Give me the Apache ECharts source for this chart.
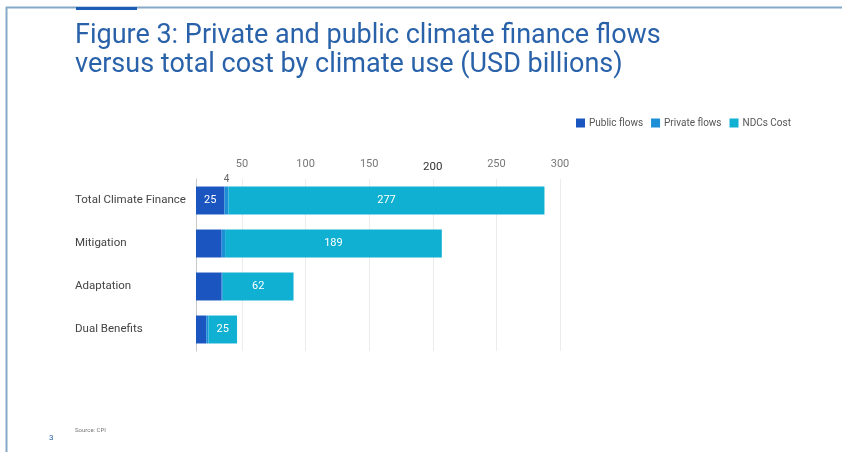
<!DOCTYPE html>
<html><head><meta charset="utf-8">
<script src="https://cdn.jsdelivr.net/npm/echarts@6/dist/echarts.min.js"></script>
<style>html,body{margin:0;padding:0;background:#fff}#c{width:842px;height:452px}</style>
</head><body><div id="c"></div>
<script>
const categories = ['Total Climate Finance', 'Mitigation', 'Adaptation', 'Dual Benefits'];
const publicFlows = [25, 22.5, 22.5, 9];
const privateFlows = [3.5, 3, 1, 2];
const ndcCost = [277, 190, 62, 25];
const tickValues = [50, 100, 150, 200, 250, 300];

const chart = echarts.init(document.getElementById('c'));
const cats = categories.slice().reverse();
const rev = a => a.slice().reverse();
const gTop = 179, gHeight = 172;
const option = {
  animation: false,
  backgroundColor: '#fff',
  textStyle: { fontFamily: 'Roboto' },
  title: [
    { text: 'Figure 3: Private and public climate finance flows\nversus total cost by climate use (USD billions)',
      left: 70, top: 17,
      textStyle: { fontFamily: 'Roboto', fontSize: 27, fontWeight: 'normal', color: '#2a62aa', lineHeight: 29 } },
    { text: 'Source: CPI', left: 70, top: 422, textStyle: { fontSize: 6, fontWeight: 'normal', color: '#777' } },
    { text: '3', left: 44, top: 429, textStyle: { fontSize: 8, fontWeight: 'normal', color: '#2a62aa' } }
  ],
  graphic: [
    { type: 'line', shape: { x1: 6, y1: 7.5, x2: 842, y2: 7.5 }, style: { stroke: '#86a9c9', lineWidth: 2 } },
    { type: 'line', shape: { x1: 6.5, y1: 7, x2: 6.5, y2: 452 }, style: { stroke: '#86a9c9', lineWidth: 2 } },
    { type: 'rect', shape: { x: 76, y: 7, width: 61, height: 3 }, style: { fill: '#1b5cb4' } }
  ],
  legend: {
    right: 46, top: 113, itemWidth: 9, itemHeight: 9, itemGap: 8, icon: 'rect',
    textStyle: { fontSize: 10, color: '#555', padding: [0, 0, 0, -1] },
    data: ['Public flows', 'Private flows', 'NDCs Cost']
  },
  grid: [
    { left: 196, top: gTop, width: 365, height: gHeight },
    { left: 178.4, top: gTop, width: 381.6, height: gHeight }
  ],
  xAxis: [
    { type: 'value', gridIndex: 0, min: 0, max: 320, axisLabel: { show: false }, splitLine: { show: false }, axisLine: { show: false }, axisTick: { show: false } },
    { type: 'value', gridIndex: 1, min: 0, max: 300, interval: 50, position: 'top',
      axisLine: { show: false }, axisTick: { show: false },
      axisLabel: { showMinLabel: false, margin: 9, fontSize: 11, color: '#777',
        formatter: v => v === 200 ? '{b|' + v + '}' : (tickValues.indexOf(v) >= 0 ? String(v) : ''),
        rich: { b: { fontSize: 11.5, color: '#333', padding: [0, 0, -3, 0] } } },
      splitLine: { show: true, lineStyle: { color: ['rgba(0,0,0,0)', '#ececec', '#ececec', '#ececec', '#ececec', '#ececec', '#ececec'], width: 1 } }
    }
  ],
  yAxis: [
    { type: 'category', gridIndex: 0, data: cats,
      axisLine: { show: true, lineStyle: { color: '#c9c9c9' } }, axisTick: { show: false },
      axisLabel: { align: 'left', margin: 121, fontSize: 11.5, color: '#444' } },
    { type: 'category', gridIndex: 1, data: cats, show: false }
  ],
  series: [
    { name: 'Public flows', type: 'bar', stack: 's', xAxisIndex: 0, yAxisIndex: 0, barCategoryGap: '35%',
      itemStyle: { color: '#1a55c0' },
      data: rev(publicFlows).map((v, i) => i === cats.length - 1 ? { value: v, label: { show: true } } : v),
      label: { show: false, position: 'inside', color: '#fff', fontSize: 11 } },
    { name: 'Private flows', type: 'bar', stack: 's', xAxisIndex: 0, yAxisIndex: 0,
      itemStyle: { color: '#1c8fd6' },
      data: rev(privateFlows).map((v, i) => i === cats.length - 1 ? { value: v, label: { show: true } } : v),
      label: { show: false, position: 'top', distance: 2, color: '#666', fontSize: 10, formatter: () => '4' } },
    { name: 'NDCs Cost', type: 'bar', stack: 's', xAxisIndex: 0, yAxisIndex: 0,
      itemStyle: { color: '#10b0d3' },
      data: rev(ndcCost),
      label: { show: true, position: 'inside', color: '#fff', fontSize: 11, formatter: p => Math.round(p.value) === 190 ? '189' : String(p.value) } }
  ]
};
chart.setOption(option);
</script></body></html>
